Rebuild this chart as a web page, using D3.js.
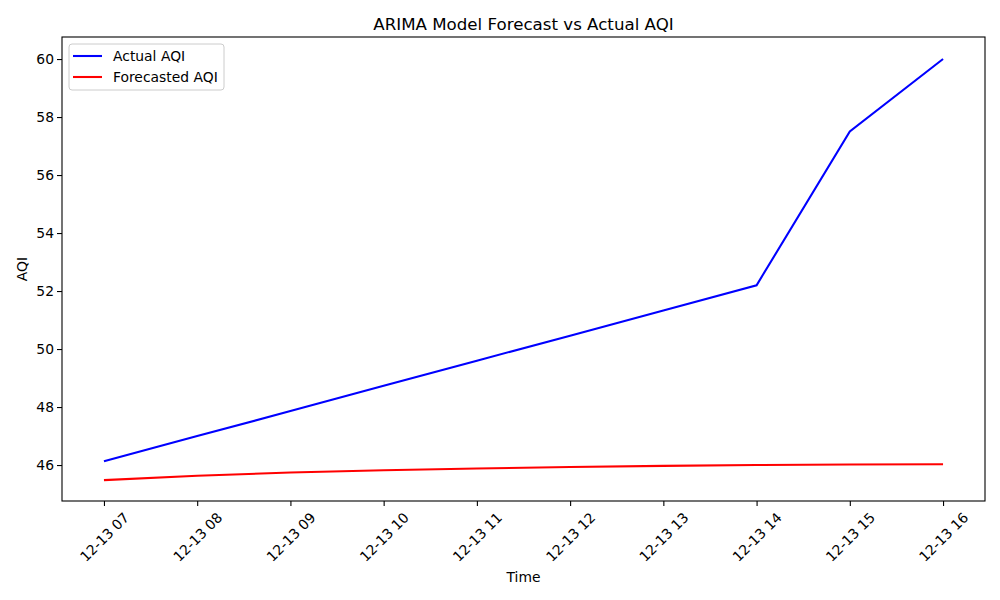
<!DOCTYPE html>
<html>
<head>
<meta charset="utf-8">
<script src="https://cdn.jsdelivr.net/npm/d3@7"></script>
<style>
  body { margin: 0; background: #fff; }
  text { font-family: "DejaVu Sans", sans-serif; fill: #000; }
</style>
</head>
<body>
<div id="chart"></div>
<script>
const times = ["12-13 07", "12-13 08", "12-13 09", "12-13 10", "12-13 11",
  "12-13 12", "12-13 13", "12-13 14", "12-13 15", "12-13 16"];
const actualAQI = [46.13, 47.0, 47.86, 48.73, 49.6, 50.46, 51.33, 52.2, 57.5, 60.0];
const forecastAQI = [45.48, 45.63, 45.74, 45.82, 45.88, 45.93, 45.97, 46.0, 46.02, 46.03];
const yTicks = [46, 48, 50, 52, 54, 56, 58, 60];

const width = 1000, height = 600;
const margin = { top: 37, right: 15, bottom: 99, left: 62 };
const w = width - margin.left - margin.right;
const h = height - margin.top - margin.bottom;
const fs = "13.89px";

const svg = d3.select("#chart").append("svg")
  .attr("width", width).attr("height", height);
const g = svg.append("g")
  .attr("transform", `translate(${margin.left},${margin.top})`);

// matplotlib-style 5% padding on x
const x = d3.scaleLinear()
  .domain([-0.45, times.length - 1 + 0.45])
  .range([0, w]);
const y = d3.scaleLinear()
  .domain([44.76, 60.76])
  .range([h, 0]);

const line = d3.line()
  .x((d, i) => x(i))
  .y(d => y(d));

g.append("path").datum(actualAQI)
  .attr("fill", "none").attr("stroke", "#0000ff").attr("stroke-width", 2.08)
  .attr("d", line);
g.append("path").datum(forecastAQI)
  .attr("fill", "none").attr("stroke", "#ff0000").attr("stroke-width", 2.08)
  .attr("d", line);

// axes
const xAxis = g.append("g")
  .attr("transform", `translate(0,${h})`)
  .call(d3.axisBottom(x).tickValues(d3.range(times.length))
    .tickFormat(i => times[i]).tickSize(5).tickSizeOuter(0));
xAxis.select(".domain").remove();
xAxis.selectAll("line").attr("stroke", "#000").attr("stroke-width", 1.1);
xAxis.selectAll("text")
  .style("font-size", fs)
  .attr("text-anchor", "middle")
  .attr("dominant-baseline", "central")
  .attr("dy", null)
  .attr("y", 36)
  .attr("transform", "rotate(-45,0,36)");

const yAxis = g.append("g")
  .call(d3.axisLeft(y).tickValues(yTicks).tickSize(5).tickSizeOuter(0));
yAxis.select(".domain").remove();
yAxis.selectAll("line").attr("stroke", "#000").attr("stroke-width", 1.1);
yAxis.selectAll("text").style("font-size", fs).attr("x", -8);

// frame
g.append("rect")
  .attr("width", w).attr("height", h)
  .attr("fill", "none").attr("stroke", "#000").attr("stroke-width", 1.1);

// title and labels
svg.append("text")
  .attr("x", margin.left + w / 2).attr("y", 30)
  .attr("text-anchor", "middle").style("font-size", "16.67px")
  .text("ARIMA Model Forecast vs Actual AQI");
svg.append("text")
  .attr("x", margin.left + w / 2).attr("y", 582)
  .attr("text-anchor", "middle").style("font-size", fs)
  .text("Time");
svg.append("text")
  .attr("transform", `translate(27,${margin.top + h / 2}) rotate(-90)`)
  .attr("text-anchor", "middle").style("font-size", fs)
  .text("AQI");

// legend
const legendItems = [
  { label: "Actual AQI", color: "#0000ff" },
  { label: "Forecasted AQI", color: "#ff0000" }
];
const lg = g.append("g").attr("transform", "translate(7,7)");
lg.append("rect")
  .attr("width", 155).attr("height", 46).attr("rx", 3)
  .attr("fill", "#fff").attr("fill-opacity", 0.8)
  .attr("stroke", "#cccccc").attr("stroke-width", 1);
legendItems.forEach((d, i) => {
  lg.append("line")
    .attr("x1", 4).attr("x2", 33)
    .attr("y1", 12 + i * 21).attr("y2", 12 + i * 21)
    .attr("stroke", d.color).attr("stroke-width", 2.08);
  lg.append("text")
    .attr("x", 44).attr("y", 12 + i * 21)
    .attr("dominant-baseline", "central")
    .style("font-size", fs)
    .text(d.label);
});
</script>
</body>
</html>
